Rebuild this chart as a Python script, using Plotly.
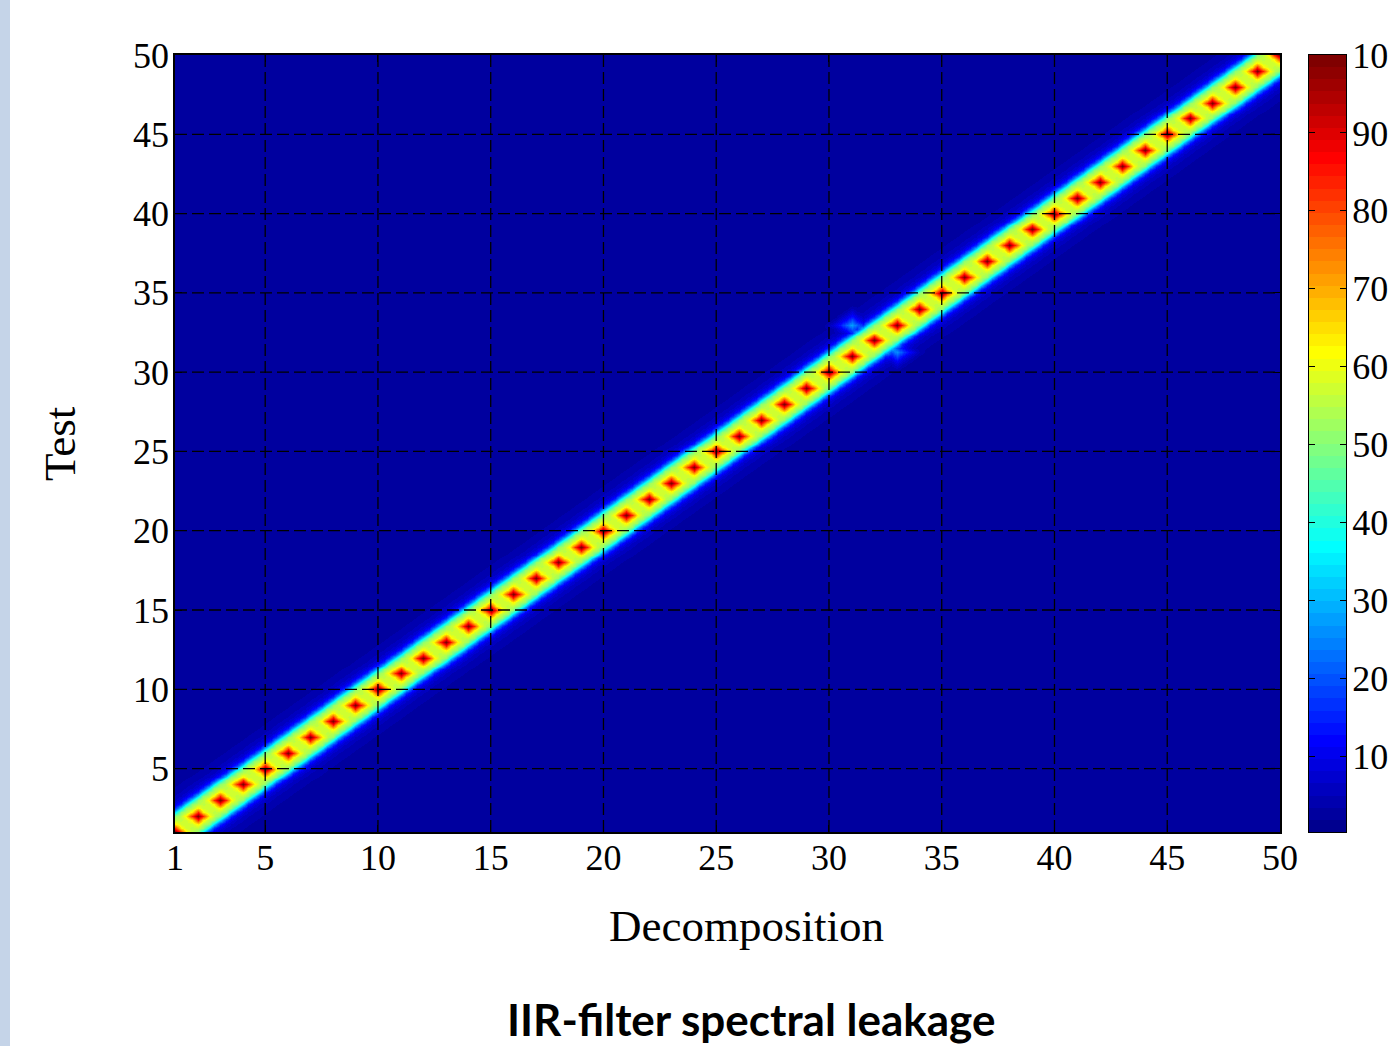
import numpy as np
import plotly.graph_objects as go

# ---------------- data ----------------
x_ticks = [1, 5, 10, 15, 20, 25, 30, 35, 40, 45, 50]
y_ticks = [5, 10, 15, 20, 25, 30, 35, 40, 45, 50]
cbar_ticks = [10, 20, 30, 40, 50, 60, 70, 80, 90, 100]
z_min, z_max = 0.3, 100

# peak value at each integer diagonal point (Decomposition = Test = 1..50)
diag_peak = [100, 100, 100, 100, 100, 100, 100, 100, 100, 100,
             100, 100, 100, 100, 100, 100, 100, 100, 100, 100,
             100, 100, 100, 100, 100, 100, 100, 100, 100, 100,
             100, 100, 100, 100, 100, 100, 100, 100, 100, 100,
             100, 100, 100, 100, 100, 100, 100, 100, 100, 100]
# plateau value on the diagonal between consecutive peaks
diag_mid = [57, 57, 57, 57, 57, 57, 57, 57, 57, 57,
            57, 57, 57, 57, 57, 57, 57, 57, 57, 57,
            57, 57, 57, 57, 57, 57, 57, 57, 57, 57,
            57, 57, 57, 57, 57, 57, 57, 57, 57, 57,
            57, 57, 57, 57, 57, 57, 57, 57, 57]
# leakage across the diagonal, at |Test - Decomposition| = 0.25, 0.5, ... 4.0
cross_vals = [57, 56, 55, 51, 34, 16, 9, 6.5, 5.0, 4.2, 3.6, 3.1, 2.7, 2.4, 2.2, 2.0]
background = 1.9
# peak decay around each diagonal point, at |dx|+|dy| = 0.25, 0.5
peak_ring = [83, 63]
# isolated leakage spots (Decomposition, Test, value)
spot_x = [31.0, 32.5, 33.0]
spot_y = [33.0, 31.5, 31.25]
spot_v = [28, 25, 26]
# spot decay at |dx|+|dy| = 0.25, 0.5, 0.75, 1.0 (fraction of spot value)
spot_ring = [0.75, 0.5, 0.32, 0.2]

# ---------------- build the matrix ----------------
step = 0.25
grid = np.arange(1, 50 + step / 2, step)
n = len(grid)
Z = np.full((n, n), background, dtype=float)
for r in range(n):          # rows: Test
    for c in range(n):      # cols: Decomposition
        k = abs(r - c)
        if k == 0:
            xv = grid[c]
            i = int(np.floor(xv + 1e-9))
            Z[r, c] = diag_peak[i - 1] if abs(xv - i) < 1e-9 else diag_mid[i - 1]
        elif k <= len(cross_vals):
            Z[r, c] = cross_vals[k - 1]
for i in range(1, 51):
    ci = int(round((i - 1) / step))
    for dr in range(-2, 3):
        for dc in range(-2, 3):
            md = abs(dr) + abs(dc)
            if 1 <= md <= 2:
                rr, cc = ci + dr, ci + dc
                if 0 <= rr < n and 0 <= cc < n:
                    Z[rr, cc] = max(Z[rr, cc], peak_ring[md - 1] * diag_peak[i - 1] / 100)
R = len(spot_ring)
for sx, sy, sv in zip(spot_x, spot_y, spot_v):
    c0 = int(round((sx - 1) / step))
    r0 = int(round((sy - 1) / step))
    for dr in range(-R, R + 1):
        for dc in range(-R, R + 1):
            md = abs(dr) + abs(dc)
            if md <= R:
                val = sv if md == 0 else sv * spot_ring[md - 1]
                Z[r0 + dr, c0 + dc] = max(Z[r0 + dr, c0 + dc], val)

# ---------------- MATLAB jet(64) colormap ----------------
def matlab_jet(m=64):
    nn = int(np.ceil(m / 4))
    u = np.concatenate([np.arange(1, nn + 1) / nn, np.ones(nn - 1), np.arange(nn, 0, -1) / nn])
    g = int(np.ceil(nn / 2)) - (1 if m % 4 == 1 else 0) + np.arange(1, len(u) + 1)
    J = np.zeros((m, 3))
    for col, idxs in ((0, g + nn), (1, g), (2, g - nn)):
        for idx, val in zip(idxs, u):
            if 1 <= idx <= m:
                J[idx - 1, col] = val
    return J

J = matlab_jet(64)
colorscale = []
for k in range(64):
    col = "rgb(%d,%d,%d)" % tuple(int(round(v * 255)) for v in J[k])
    colorscale.append([k / 64, col])
    colorscale.append([(k + 1) / 64, col])

# colour-bar strip: one cell per colormap level
cb_levels = [z_min + (k + 0.5) * (z_max - z_min) / 64 for k in range(64)]

serif = "Liberation Serif"
W, H = 1389, 1046
L, T, B = 175, 55, 214
paper_w = W - L
px = lambda p: (p - L) / paper_w          # pixel x -> paper x
py = lambda p: (H - B - p) / (H - B - T)  # pixel y -> paper y

fig = go.Figure()
fig.add_trace(go.Heatmap(
    x=grid, y=grid, z=Z, zsmooth="best",
    colorscale=colorscale, zmin=z_min, zmax=z_max, showscale=False,
    hoverinfo="skip", xaxis="x", yaxis="y",
))
fig.add_trace(go.Heatmap(
    x=[0], y=cb_levels, z=[[v] for v in cb_levels],
    colorscale=colorscale, zmin=z_min, zmax=z_max, showscale=False,
    hoverinfo="skip", xaxis="x2", yaxis="y2",
))

dash = dict(color="black", width=1.3, dash="12px,5px")
shapes = []
for t in x_ticks:
    if 1 < t < 50:
        shapes.append(dict(type="line", xref="x", yref="y", x0=t, x1=t, y0=1, y1=50,
                           line=dash, layer="above"))
for t in y_ticks:
    if 1 < t < 50:
        shapes.append(dict(type="line", xref="x", yref="y", x0=1, x1=50, y0=t, y1=t,
                           line=dash, layer="above"))
# slide edge strip at the far left
shapes.append(dict(type="rect", xref="paper", yref="paper",
                   x0=px(0), x1=px(10), y0=py(H + 5), y1=py(-5),
                   fillcolor="#C5D4E8", line=dict(width=0), layer="below"))

axis_common = dict(showgrid=False, zeroline=False, showline=True, linecolor="black",
                   linewidth=1.5, mirror="ticks", ticks="inside", ticklen=7,
                   tickcolor="black", layer="above traces",
                   tickfont=dict(family=serif, size=36, color="black"))

fig.update_layout(
    width=W, height=H,
    margin=dict(l=L, r=0, t=T, b=B, autoexpand=False),
    paper_bgcolor="white", plot_bgcolor="white",
    font=dict(family=serif, color="black"),
    xaxis=dict(domain=[0, px(1280)], range=[1, 50], tickvals=x_ticks,
               ticktext=[str(t) for t in x_ticks], ticklabelstandoff=-7, **axis_common),
    yaxis=dict(domain=[0, 1], range=[1, 50], tickvals=y_ticks,
               ticktext=[str(t) for t in y_ticks], ticklabelstandoff=-3, **axis_common),
    xaxis2=dict(domain=[px(1309), px(1346)], anchor="y2", range=[-0.5, 0.5],
                showticklabels=False, showgrid=False, zeroline=False, showline=True,
                linecolor="black", linewidth=1, mirror=True, ticks=""),
    yaxis2=dict(domain=[0, 1], anchor="x2", side="right", range=[z_min, z_max],
                tickvals=cbar_ticks, ticktext=[str(t) for t in cbar_ticks],
                showgrid=False, zeroline=False, showline=True, linecolor="black",
                linewidth=1, mirror="ticks", ticks="inside", ticklen=6, tickcolor="black",
                layer="above traces", ticklabelstandoff=-2,
                tickfont=dict(family=serif, size=36, color="black")),
    shapes=shapes,
    annotations=[
        dict(text="Decomposition", xref="paper", yref="paper", x=px(746), y=py(926),
             xanchor="center", yanchor="middle", showarrow=False,
             font=dict(family=serif, size=45, color="black")),
        dict(text="Test", xref="paper", yref="paper", x=px(60), y=py(444),
             xanchor="center", yanchor="middle", showarrow=False, textangle=-90,
             font=dict(family=serif, size=45, color="black")),
        dict(text="IIR-filter spectral leakage", xref="paper", yref="paper",
             x=px(751), y=py(1019), xanchor="center", yanchor="middle", showarrow=False,
             font=dict(family="Lato", size=44, color="black", weight="bold")),
    ],
)

fig.write_html("out.html", config={"displayModeBar": False},
               post_script="document.body.style.margin='0';document.body.style.overflow='hidden';")
